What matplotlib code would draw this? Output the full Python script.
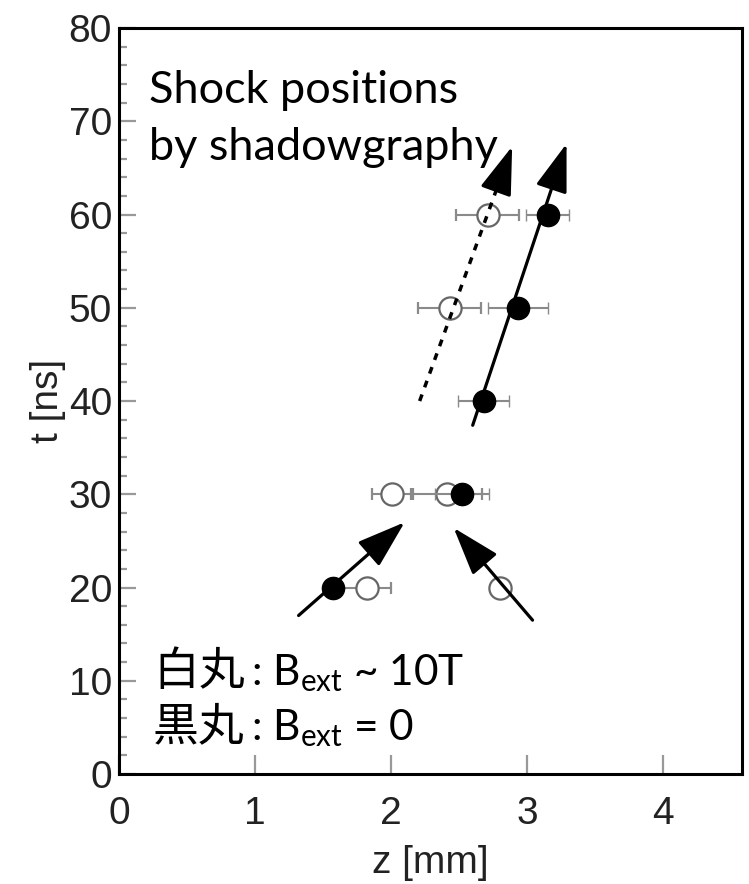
import matplotlib.pyplot as plt
from matplotlib.ticker import MultipleLocator

plt.rcParams['font.family'] = 'Liberation Sans'
plt.rcParams['mathtext.fontset'] = 'custom'
plt.rcParams['mathtext.rm'] = 'Lato'

# open circles: B_ext ~ 10 T
z_open = [1.82, 2.80, 2.01, 2.41, 2.43, 2.71]
t_open = [20, 20, 30, 30, 50, 60]
zerr_open = [0.18, 0.0, 0.15, 0.26, 0.23, 0.23]

# filled circles: B_ext = 0
z_fill = [1.57, 2.52, 2.68, 2.93, 3.15]
t_fill = [20, 30, 40, 50, 60]
zerr_fill = [0.0, 0.20, 0.19, 0.22, 0.16]

# arrows: (z start, t start) -> (z tip, t tip)
arrow_solid = [(2.60, 37.4), (3.29, 67.6)]
arrow_dotted = [(2.21, 40.0), (2.89, 67.3)]
arrow_in_left = [(1.32, 17.0), (2.10, 27.0)]
arrow_in_right = [(3.04, 16.5), (2.46, 26.4)]

xticks = [0, 1, 2, 3, 4]
yticks = [0, 10, 20, 30, 40, 50, 60, 70, 80]

fig = plt.figure(figsize=(7.49, 8.84), dpi=100)
ax = fig.add_axes([0.1589, 0.1244, 0.8318, 0.8439])

# error bars + markers
ax.errorbar(z_open, t_open, xerr=zerr_open, fmt='o', ms=16, mfc='white', mec='#666666',
            mew=1.6, ecolor='#8a8a8a', elinewidth=1.5, capsize=4, capthick=1.5, zorder=3)
ax.errorbar(z_fill, t_fill, xerr=zerr_fill, fmt='o', ms=16, mfc='black', mec='black',
            mew=1, ecolor='#8a8a8a', elinewidth=1.5, capsize=4, capthick=1.5, zorder=4)

head = '-|>,head_length=3.0,head_width=1.0'
for arr in [arrow_solid, arrow_in_left, arrow_in_right]:
    ax.annotate('', xy=arr[1], xytext=arr[0],
                arrowprops=dict(arrowstyle=head, lw=2.3, color='black',
                                shrinkA=0, shrinkB=0, mutation_scale=10), zorder=5)

# dotted shaft + solid head
(z0, t0), (z1, t1) = arrow_dotted
zb, tb = z1 - 0.14 * (z1 - z0), t1 - 0.14 * (t1 - t0)
ax.plot([z0, zb], [t0, tb], color='black', lw=2.5, dashes=(2, 2.2), zorder=5)
ax.annotate('', xy=(z1, t1), xytext=(zb, tb),
            arrowprops=dict(arrowstyle=head, lw=2.3, color='black',
                            shrinkA=0, shrinkB=0, mutation_scale=10), zorder=5)

ax.set_xlim(0, 4.58)
ax.set_ylim(0, 80)
ax.set_xticks(xticks)
ax.set_yticks(yticks)
ax.yaxis.set_minor_locator(MultipleLocator(2))

ax.tick_params(axis='both', which='both', direction='in', colors='#999999',
               labelcolor='#222222', labelsize=28, width=1.6)
ax.tick_params(axis='y', which='major', length=12, pad=5)
ax.tick_params(axis='y', which='minor', length=6)
ax.tick_params(axis='x', which='major', length=14, pad=16)
for s in ax.spines.values():
    s.set_linewidth(2.2)

ax.set_xlabel('z [mm]', fontsize=28, color='#222222', labelpad=9)
ax.set_ylabel('t [ns]', fontsize=28, color='#222222', labelpad=2)

ax.text(0.22, 72.0, 'Shock positions', family='Lato', fontsize=32.5, va='baseline')
ax.text(0.22, 65.8, 'by shadowgraphy', family='Lato', fontsize=32.5, va='baseline')

ax.text(0.25, 9.5, '白丸', family='Noto Sans CJK JP', fontsize=33, va='baseline')
ax.text(0.97, 9.5, r': B$_{\rm ext}$ ~ 10T', family='Lato', fontsize=30.5, va='baseline')
ax.text(0.25, 3.6, '黒丸', family='Noto Sans CJK JP', fontsize=33, va='baseline')
ax.text(0.97, 3.6, r': B$_{\rm ext}$ = 0', family='Lato', fontsize=30.5, va='baseline')

plt.savefig('out.png', dpi=100)
